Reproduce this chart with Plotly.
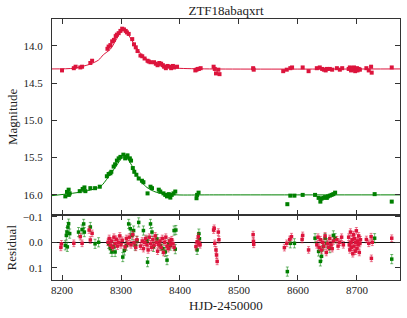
import plotly.graph_objects as go
from plotly.subplots import make_subplots

# ---------------- data ----------------
red_t = [8200, 8220, 8223, 8231, 8234, 8248, 8251, 8277, 8279, 8282, 8285, 8288, 8291, 8293,
         8296, 8299, 8302, 8305, 8308, 8310, 8313, 8319, 8322, 8325, 8328, 8333, 8336, 8340,
         8345, 8347, 8350, 8356, 8359, 8362, 8365, 8368, 8371, 8373, 8376, 8379, 8382, 8385,
         8388, 8390, 8395, 8426, 8428, 8430, 8432, 8435, 8457, 8459, 8461, 8465, 8467, 8524,
         8525, 8575, 8581, 8587, 8590, 8608, 8618, 8632, 8637, 8641, 8644, 8647, 8649, 8654,
         8658, 8666, 8671, 8675, 8686, 8688, 8690, 8692, 8694, 8695, 8697, 8698, 8700, 8701,
         8703, 8705, 8716, 8720, 8724, 8725, 8759]
red_mag = [14.33, 14.30, 14.28, 14.29, 14.28, 14.23, 14.20, 14.04, 14.01, 13.99, 13.94, 13.92,
           13.87, 13.85, 13.83, 13.80, 13.77, 13.78, 13.80, 13.82, 13.84, 13.91, 13.98, 14.02,
           14.07, 14.13, 14.14, 14.17, 14.20, 14.21, 14.22, 14.22, 14.24, 14.26, 14.23, 14.24,
           14.26, 14.28, 14.30, 14.27, 14.28, 14.30, 14.27, 14.29, 14.28, 14.33, 14.32, 14.31,
           14.31, 14.30, 14.28, 14.31, 14.37, 14.32, 14.38, 14.30, 14.32, 14.34, 14.32, 14.30,
           14.29, 14.29, 14.34, 14.30, 14.29, 14.31, 14.32, 14.33, 14.31, 14.31, 14.32, 14.30,
           14.32, 14.30, 14.31, 14.29, 14.33, 14.30, 14.32, 14.29, 14.34, 14.31, 14.30, 14.33,
           14.31, 14.32, 14.30, 14.33, 14.28, 14.36, 14.29]
red_err = [0.012] * len(red_t)

grn_t = [8205.6, 8208.4, 8211.2, 8211.5, 8213, 8230, 8235, 8238, 8239.5, 8248, 8256, 8264,
         8276, 8279, 8282, 8283.6, 8287.5, 8290, 8293, 8296, 8299, 8304, 8307, 8309, 8311,
         8315, 8317, 8320, 8322.5, 8326, 8330, 8335.5, 8338, 8345, 8350, 8352.5, 8364, 8366.6,
         8372, 8375, 8378, 8381, 8383.6, 8386, 8389, 8392, 8428, 8429, 8431.5,
         8582, 8587, 8594, 8608, 8629, 8635, 8638, 8640, 8643, 8646, 8649, 8651, 8654, 8657,
         8660, 8663, 8730, 8759]
grn_mag = [16.02, 15.96, 15.93, 16.00, 15.98, 15.95, 15.92, 15.90, 15.95, 15.91, 15.91, 15.89,
           15.75, 15.72, 15.71, 15.69, 15.62, 15.59, 15.54, 15.51, 15.49, 15.46, 15.51, 15.49,
           15.47, 15.51, 15.54, 15.64, 15.69, 15.73, 15.78, 15.81, 15.83, 15.98, 15.89, 15.91,
           15.93, 15.955, 15.98, 16.00, 16.02, 15.99, 16.036, 16.00, 15.98, 15.955, 16.045, 16.00,
           15.97, 16.125, 16.01, 16.01, 16.00, 16.00, 16.04, 16.09, 16.05, 16.04, 16.03, 16.04,
           16.02, 16.01, 16.00, 15.99, 15.97, 15.99, 16.09]
grn_err = [0.015] * len(grn_t)

# model curves
r_model_t = [8183, 8220, 8248, 8262, 8270, 8282, 8293, 8298, 8302, 8306, 8313, 8321, 8333,
             8342, 8350, 8360, 8372, 8395, 8450, 8773]
r_model = [14.31, 14.30, 14.245, 14.19, 14.12, 14.045, 13.90, 13.83, 13.79, 13.80, 13.86,
           13.96, 14.10, 14.17, 14.21, 14.25, 14.28, 14.30, 14.31, 14.31]
g_model_t = [8183, 8237, 8265, 8272, 8279, 8293, 8300, 8305, 8310, 8316, 8327, 8335, 8344,
             8355, 8367, 8395, 8450, 8773]
g_model = [16.01, 15.955, 15.89, 15.83, 15.755, 15.60, 15.52, 15.49, 15.51, 15.575, 15.73,
           15.83, 15.90, 15.95, 15.98, 16.00, 16.00, 16.00]

# residuals
res_r_t = [8198, 8199, 8220, 8231, 8234, 8246, 8248, 8251,
           8278, 8280, 8282, 8284, 8286, 8288, 8290, 8292, 8294, 8296, 8298, 8300, 8302,
           8307, 8309, 8312, 8314, 8317, 8320, 8322, 8325, 8327,
           8333, 8336, 8338, 8340, 8342, 8344, 8346, 8348, 8350, 8352, 8354, 8356, 8358, 8360,
           8362, 8364, 8366, 8368, 8370, 8372, 8374, 8376, 8378, 8380, 8382, 8384, 8386, 8388, 8390,
           8427, 8429, 8431, 8432, 8434,
           8457, 8458, 8459, 8461, 8462, 8463, 8465, 8466,
           8524, 8524.5, 8525,
           8577, 8581, 8586, 8589, 8607, 8608, 8618,
           8632, 8634, 8636, 8638, 8640, 8642, 8644, 8646, 8648, 8650, 8652, 8654, 8656, 8658, 8660,
           8666, 8668, 8671, 8674, 8677,
           8686, 8687, 8688, 8689, 8690, 8691, 8692, 8693, 8694, 8695, 8696, 8697, 8698, 8699,
           8700, 8701, 8702, 8703, 8704, 8705, 8706,
           8716, 8720, 8724, 8724.5, 8726, 8759]
res_r = [0.020, 0.006, 0.004, -0.022, 0.004, -0.048, -0.009, -0.035,
         0.000, -0.015, 0.012, -0.005, 0.020, -0.020, 0.005, -0.012, 0.015, 0.000, -0.025, 0.010, -0.008,
         0.018, -0.015, 0.005, -0.020, 0.010, -0.030, 0.002, 0.020, -0.010,
         0.015, -0.005, 0.025, 0.000, -0.015, 0.010, 0.030, -0.020, 0.005, 0.020, -0.010, 0.012, -0.025, 0.000,
         0.035, 0.010, -0.005, 0.020, -0.015, 0.040, 0.000, -0.020, 0.015, 0.025, -0.005, 0.010, -0.010, 0.005, 0.020,
         0.017, -0.002, -0.022, 0.004, 0.010,
         -0.048, -0.055, 0.004, 0.030, 0.050, 0.075, -0.040, -0.010,
         -0.030, -0.004, 0.008,
         0.021, 0.004, -0.011, -0.022, -0.011, -0.027, 0.030,
         0.010, -0.020, 0.020, -0.010, 0.030, 0.000, 0.015, -0.025, 0.040, 0.005, 0.020, -0.015, 0.010, 0.025, -0.005,
         -0.010, 0.015, 0.000, -0.020, 0.010,
         -0.020, 0.010, 0.030, -0.040, 0.000, 0.020, -0.010, 0.045, -0.030, 0.015, -0.015, 0.035, 0.000, -0.045,
         0.025, -0.005, 0.010, -0.025, 0.040, 0.005, -0.010,
         -0.011, 0.004, -0.022, 0.063, 0.000, -0.016]
res_r_err = [0.013] * len(res_r_t)

res_g_t = [8205.6, 8207.3, 8208.4, 8209, 8210, 8211.2, 8213, 8228, 8234, 8236.7, 8237.8, 8248,
           8256, 8262, 8279, 8282, 8284.7, 8287.5, 8290, 8303, 8305.6, 8309, 8313, 8315.8,
           8318.6, 8321.4, 8324, 8327, 8330, 8338, 8344, 8345, 8350, 8352.5, 8355, 8361,
           8366.6, 8371, 8375, 8378, 8381, 8383.6, 8390, 8392, 8393,
           8429, 8432, 8433,
           8582, 8587, 8594, 8629, 8635, 8638, 8640, 8643, 8646, 8649, 8654, 8660, 8663, 8730, 8759]
res_g = [0.012, -0.027, -0.040, 0.018, -0.060, -0.073, -0.034, -0.040, -0.050, -0.072, -0.040,
         -0.060, 0.006, 0.000, 0.006, 0.025, 0.038, 0.018, 0.038, 0.058, 0.032, 0.013, -0.072,
         -0.053, -0.027, -0.046, 0.013, -0.006, -0.078, -0.046, -0.006, 0.078, -0.072, -0.040,
         0.018, -0.013, 0.013, 0.025, 0.038, 0.070, 0.006, 0.013, -0.046, 0.027, -0.048,
         0.030, -0.034, -0.014,
         0.115, 0.004, 0.004, -0.016, 0.036, 0.075, 0.055, 0.016, -0.016, 0.004, 0.023, -0.027,
         -0.016, -0.016, 0.066]
res_g_err = [0.018] * len(res_g_t)

x_ticks = [8200, 8300, 8400, 8500, 8600, 8700]
mag_ticks = [14.0, 14.5, 15.0, 15.5, 16.0]
mag_tick_text = ["14.0", "14.5", "15.0", "15.5", "16.0"]
res_ticks = [-0.1, 0.0, 0.1]
res_tick_text = ["\u22120.1", "0.0", "0.1"]

RED = "#DC143C"
GRN = "#008000"
RED_E = "rgba(220,20,60,0.55)"
GRN_E = "rgba(0,128,0,0.55)"
TXT = "#222"

FONT = "Liberation Serif, Times New Roman, serif"

fig = make_subplots(rows=2, cols=1, shared_xaxes=True, vertical_spacing=0,
                    row_heights=[0.751, 0.249])

# model lines
fig.add_trace(go.Scatter(x=r_model_t, y=r_model, mode="lines",
                         line=dict(color=RED, width=1, shape="spline", smoothing=0.8),
                         hoverinfo="skip"), row=1, col=1)
fig.add_trace(go.Scatter(x=g_model_t, y=g_model, mode="lines",
                         line=dict(color=GRN, width=1, shape="spline", smoothing=0.8),
                         hoverinfo="skip"), row=1, col=1)

# data points
fig.add_trace(go.Scatter(x=red_t, y=red_mag, mode="markers",
                         marker=dict(color=RED, size=4, symbol="square"),
                         error_y=dict(type="data", array=red_err, color=RED_E, thickness=1, width=1)),
              row=1, col=1)
fig.add_trace(go.Scatter(x=grn_t, y=grn_mag, mode="markers",
                         marker=dict(color=GRN, size=4, symbol="square"),
                         error_y=dict(type="data", array=grn_err, color=GRN_E, thickness=1, width=1)),
              row=1, col=1)

# residuals
fig.add_trace(go.Scatter(x=res_g_t, y=res_g, mode="markers",
                         marker=dict(color=GRN, size=3.5, symbol="square"),
                         error_y=dict(type="data", array=res_g_err, color=GRN_E, thickness=1, width=1.5)),
              row=2, col=1)
fig.add_trace(go.Scatter(x=res_r_t, y=res_r, mode="markers",
                         marker=dict(color=RED, size=3.5, symbol="square"),
                         error_y=dict(type="data", array=res_r_err, color=RED_E, thickness=1, width=1.5)),
              row=2, col=1)

axis_common = dict(showline=True, linecolor="#333", linewidth=1, mirror="ticks",
                   ticks="inside", ticklen=5, tickcolor="#333", showgrid=False,
                   automargin=False, tickfont=dict(family=FONT, size=11, color=TXT))

fig.update_xaxes(range=[8183, 8773], tickvals=x_ticks, zeroline=False, **axis_common)
fig.update_xaxes(showticklabels=False, row=1, col=1)

fig.update_yaxes(range=[16.27, 13.64], tickvals=mag_ticks, ticktext=mag_tick_text,
                 zeroline=False, ticklabelstandoff=6, row=1, col=1, **axis_common)
fig.update_yaxes(range=[0.148, -0.107], tickvals=res_ticks, ticktext=res_tick_text,
                 zeroline=True, zerolinecolor="#111", zerolinewidth=1, ticklabelstandoff=6,
                 row=2, col=1, **axis_common)

title_font = dict(family=FONT, size=13, color=TXT)
fig.update_layout(
    width=407, height=318,
    margin=dict(l=52, r=7, t=19, b=38, autoexpand=False),
    paper_bgcolor="white", plot_bgcolor="white",
    showlegend=False,
    title=dict(text="ZTF18abaqxrt", xref="paper", x=0.5, xanchor="center",
               yref="container", y=1 - 10 / 318, yanchor="middle",
               font=title_font),
    annotations=[
        dict(text="Magnitude", xref="paper", yref="paper", x=(12 - 52) / 348, y=0.6245,
             showarrow=False, textangle=-90, font=title_font, xanchor="center", yanchor="middle"),
        dict(text="Residual", xref="paper", yref="paper", x=(12 - 52) / 348, y=0.1245,
             showarrow=False, textangle=-90, font=title_font, xanchor="center", yanchor="middle"),
        dict(text="HJD-2450000", xref="paper", yref="paper", x=0.5, y=(280 - 305) / 261,
             showarrow=False, font=title_font, xanchor="center", yanchor="middle"),
    ],
)

fig.write_html("out.html", config={"displayModeBar": False},
               post_script="document.body.style.margin='0';document.body.style.overflow='hidden';")
